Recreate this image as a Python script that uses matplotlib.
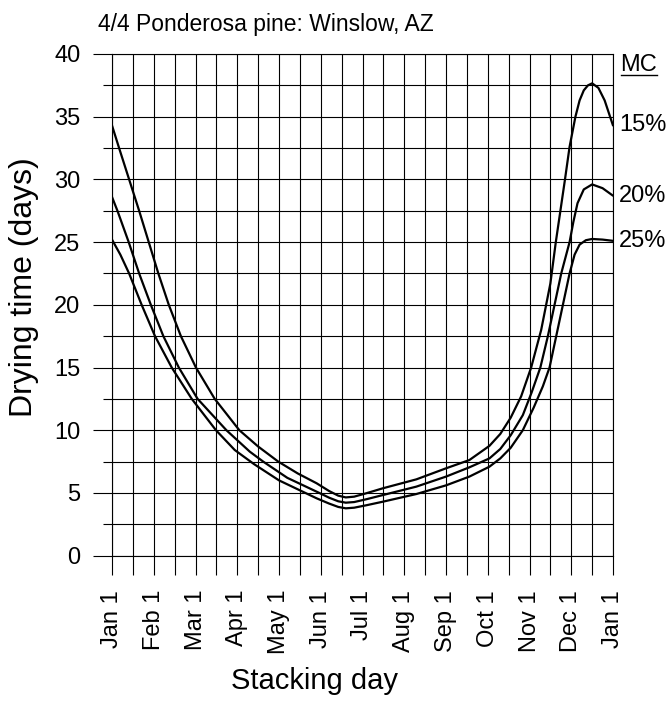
import numpy as np
import matplotlib
matplotlib.use("Agg")
import matplotlib.pyplot as plt
from matplotlib.lines import Line2D
from matplotlib.ticker import MultipleLocator

plt.rcParams['font.family'] = ['Liberation Sans', 'DejaVu Sans']

# stacking day in months after Jan 1
month_labels = ["Jan 1", "Feb 1", "Mar 1", "Apr 1", "May 1", "Jun 1", "Jul 1",
                "Aug 1", "Sep 1", "Oct 1", "Nov 1", "Dec 1", "Jan 1"]

# 15% MC
x15 = [0, 0.17, 0.41, 0.65, 0.88, 1.11, 1.36, 1.65, 2.01, 2.46, 3.05, 3.5, 3.98,
       4.45, 4.9, 5.2, 5.42, 5.6, 5.8, 6.1, 6.49, 7.29, 8.0, 8.56, 9.04, 9.3,
       9.55, 9.8, 10.04, 10.28, 10.5, 10.63, 10.74, 10.85, 10.96, 11.1, 11.2,
       11.3, 11.4, 11.5, 11.65, 11.8, 12]
y15 = [34.3, 32.5, 30.0, 27.5, 25.0, 22.5, 20.0, 17.5, 15.0, 12.5, 10.0, 8.7, 7.5,
       6.55, 5.77, 5.15, 4.78, 4.64, 4.7, 4.98, 5.37, 6.08, 6.96, 7.62, 8.75, 9.7,
       11.0, 12.7, 15.0, 18.0, 21.7, 25.0, 27.5, 30.0, 32.6, 35.0, 36.3,
       37.1, 37.5, 37.66, 37.3, 36.3, 34.3]

# 20% MC
x20 = [0, 0.13, 0.4, 0.65, 0.93, 1.23, 1.6, 2.05, 2.74, 3.30, 3.62, 4.2, 4.9,
       5.2, 5.42, 5.6, 5.8, 6.1, 6.49, 7.29, 8.0, 8.56, 9.04, 9.3, 9.55, 9.84,
       10.05, 10.26, 10.44, 10.6, 10.76, 10.96, 11.05, 11.15, 11.3, 11.5, 11.75, 12]
y20 = [28.6, 27.5, 25.0, 22.5, 20.0, 17.5, 15.0, 12.5, 10.0, 8.29, 7.5, 6.2, 5.1,
       4.62, 4.33, 4.22, 4.27, 4.5, 4.83, 5.5, 6.3, 7.04, 7.75, 8.5, 9.6, 11.2,
       13.0, 15.0, 17.5, 20.0, 22.5, 25.0, 26.6, 28.1, 29.2, 29.6, 29.3, 28.7]

# 25% MC
x25 = [0, 0.2, 0.41, 0.71, 1.03, 1.43, 1.91, 2.49, 2.94, 3.4, 4.0, 4.9, 5.2,
       5.42, 5.6, 5.8, 6.1, 6.49, 7.29, 8.0, 8.56, 9.04, 9.3, 9.55, 9.84, 10.1,
       10.32, 10.48, 10.64, 10.8, 10.96, 11.08, 11.2, 11.35, 11.5, 11.75, 12]
y25 = [25.2, 24.0, 22.5, 20.0, 17.5, 15.0, 12.5, 10.0, 8.42, 7.3, 6.0, 4.57, 4.15,
       3.88, 3.77, 3.82, 4.02, 4.3, 4.91, 5.6, 6.3, 7.09, 7.75, 8.6, 10.0, 11.8,
       13.5, 15.0, 17.5, 20.0, 22.5, 24.0, 24.8, 25.15, 25.25, 25.2, 25.1]

curve_labels = ["15%", "20%", "25%"]

fig = plt.figure(figsize=(6.7, 7.02), dpi=100)
ax = fig.add_axes([112 / 670, 1 - 555.6 / 702, 501 / 670, 501.6 / 702])

for xs, ys, lab in zip([x15, x20, x25], [y15, y20, y25], curve_labels):
    ax.plot(xs, ys, color='black', lw=1.6, solid_joinstyle='round',
            solid_capstyle='round', zorder=3)
    ax.text(12.15, ys[-1], lab, fontsize=17, ha='left', va='center', clip_on=False)

mc = ax.text(12.18, 39.1, "MC", fontsize=17, ha='left', va='center', clip_on=False)

ax.set_xlim(0, 12)
ax.set_ylim(0, 40)
ax.set_xticks(np.arange(13))
ax.set_xticklabels(month_labels, rotation=90, fontsize=17)
ax.xaxis.set_minor_locator(MultipleLocator(0.5))
ax.yaxis.set_major_locator(MultipleLocator(5))
ax.yaxis.set_minor_locator(MultipleLocator(2.5))
ax.tick_params(axis='y', labelsize=17)

ax.tick_params(axis='x', which='both', length=13.7, width=0.8, pad=11)
ax.tick_params(axis='y', which='major', length=13.7, width=0.8, pad=9)
ax.tick_params(axis='y', which='minor', length=6.5, width=0.8)

ax.grid(which='both', color='black', lw=0.8)
for s in ax.spines.values():
    s.set_linewidth(0.8)
    s.set_color('black')

ax.set_xlabel("Stacking day", fontsize=21)
ax.xaxis.set_label_coords(0.405, -0.222)
ax.set_ylabel("Drying time (days)", fontsize=23)
ax.yaxis.set_label_coords(-0.145, 0.535)

fig.text(266 / 670, 1 - 24 / 702, "4/4 Ponderosa pine: Winslow, AZ", fontsize=16.5,
         ha='center', va='center')

# underline the "MC" header
fig.canvas.draw()
bb = mc.get_window_extent().transformed(fig.transFigure.inverted())
uy = bb.y0 + 1.5 / 702
fig.add_artist(Line2D([bb.x0, bb.x1], [uy, uy], transform=fig.transFigure,
                      color='black', lw=1.0))

fig.savefig("out.png", dpi=100)
